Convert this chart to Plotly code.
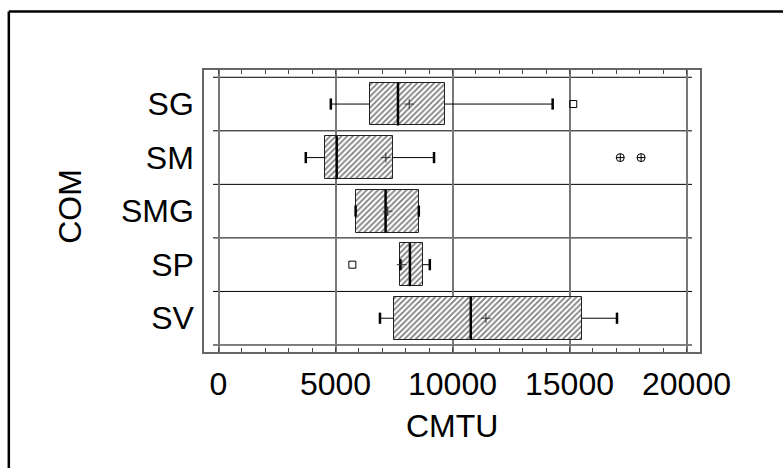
import plotly.graph_objects as go

categories = ["SG", "SM", "SMG", "SP", "SV"]
q1 = [6460, 4540, 5860, 7760, 7490]
median = [7670, 5050, 7140, 8180, 10780]
q3 = [9680, 7440, 8560, 8730, 15530]
mean = [8150, 7150, 7230, 7830, 11430]
lower_whisker = [4800, 3730, 5860, 7770, 6900]
upper_whisker = [14280, 9210, 8560, 9030, 17030]
square_outlier_cat = ["SG", "SP"]
square_outlier_val = [15160, 5720]
cross_outlier_cat = ["SM", "SM"]
cross_outlier_val = [17170, 18060]
x_ticks = [0, 5000, 10000, 15000, 20000]

ypos = list(range(len(categories)))
idx = {c: i for i, c in enumerate(categories)}

FONT = "Liberation Sans, Arial, sans-serif"
FS = 32
fig = go.Figure()

# boxes (hatched)
fig.add_trace(go.Bar(
    y=ypos, x=[b - a for a, b in zip(q1, q3)], base=q1, orientation="h", width=0.8,
    marker=dict(color="white", line=dict(color="#222", width=1),
                pattern=dict(shape="/", fgcolor="black", bgcolor="white", size=4, solidity=0.45)),
    hoverinfo="skip", showlegend=False))

# whiskers
wx, wy = [], []
for i in ypos:
    wx += [lower_whisker[i], q1[i], None, q3[i], upper_whisker[i], None]
    wy += [i, i, None, i, i, None]
fig.add_trace(go.Scatter(x=wx, y=wy, mode="lines", line=dict(color="black", width=1),
                         hoverinfo="skip", showlegend=False))
# whisker caps (line-ns length = 1.4 * size)
fig.add_trace(go.Scatter(x=lower_whisker + upper_whisker, y=ypos + ypos, mode="markers",
                         marker=dict(symbol="line-ns", size=8, line=dict(color="black", width=2.5)),
                         hoverinfo="skip", showlegend=False))
# medians
fig.add_trace(go.Scatter(x=median, y=ypos, mode="markers",
                         marker=dict(symbol="line-ns", size=30.7, line=dict(color="black", width=2.5)),
                         hoverinfo="skip", showlegend=False))
# means
fig.add_trace(go.Scatter(x=mean, y=ypos, mode="markers",
                         marker=dict(symbol="cross-thin", size=7, line=dict(color="#333", width=1)),
                         hoverinfo="skip", showlegend=False))
# outliers
fig.add_trace(go.Scatter(x=square_outlier_val, y=[idx[c] for c in square_outlier_cat], mode="markers",
                         marker=dict(symbol="square-open", size=7, color="black", line=dict(width=1)),
                         hoverinfo="skip", showlegend=False))
fig.add_trace(go.Scatter(x=cross_outlier_val, y=[idx[c] for c in cross_outlier_cat], mode="markers",
                         marker=dict(symbol="circle-cross-open", size=8, color="black", line=dict(width=1)),
                         hoverinfo="skip", showlegend=False))

shapes = []
for k in range(len(categories) + 1):
    yb = k - 0.5
    shapes.append(dict(type="line", xref="x", yref="y", x0=-235, x1=20235, y0=yb, y1=yb,
                       line=dict(color="black", width=1), layer="below"))
# outer page border (left and top)
shapes.append(dict(type="line", xref="paper", yref="paper", x0=-0.3935, x1=-0.3935, y0=-0.6, y1=1.2074,
                   line=dict(color="black", width=2.5)))
shapes.append(dict(type="line", xref="paper", yref="paper", x0=-0.3935, x1=1.4, y0=1.2074, y1=1.2074,
                   line=dict(color="black", width=2.5)))

fig.update_layout(
    width=783, height=468, margin=dict(l=204, r=83, t=70, b=116),
    paper_bgcolor="white", plot_bgcolor="white",
    font=dict(family=FONT, size=FS, color="black"),
    shapes=shapes, bargap=0,
    annotations=[
        dict(text="COM", xref="paper", yref="paper", x=-0.2705, y=0.518, textangle=-90,
             showarrow=False, font=dict(size=FS), xanchor="center", yanchor="middle"),
        dict(text="CMTU", xref="paper", yref="paper", x=0.5, y=-0.264,
             showarrow=False, font=dict(size=FS), xanchor="center", yanchor="middle"),
    ],
)
fig.update_xaxes(
    range=[-620, 20577], tickvals=x_ticks, ticktext=[str(v) for v in x_ticks],
    showgrid=True, gridcolor="#777", gridwidth=2, zeroline=False,
    showline=True, mirror="allticks", linecolor="#666", linewidth=1.5,
    ticks="inside", ticklen=4, tickcolor="#444",
    minor=dict(dtick=1000, tick0=0, ticks="inside", ticklen=4, tickcolor="#444", showgrid=False),
    tickfont=dict(size=FS), ticklabelstandoff=3,
)
fig.update_yaxes(
    range=[4.631, -0.636], tickvals=ypos, ticktext=categories,
    showgrid=False, zeroline=False, showline=True, mirror=True, linecolor="#666", linewidth=1.5,
    ticks="", tickfont=dict(size=FS), ticklabelstandoff=2,
)
fig.write_html("out.html")
